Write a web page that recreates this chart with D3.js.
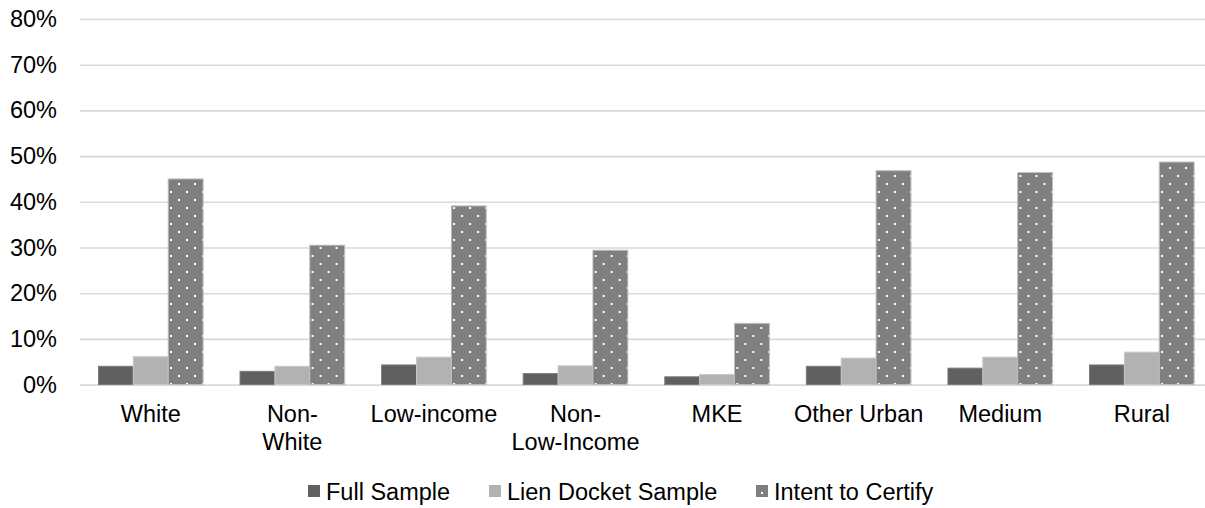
<!DOCTYPE html>
<html><head><meta charset="utf-8">
<script src="https://cdn.jsdelivr.net/npm/d3@7"></script>
<style>body{margin:0;background:#fff;} svg{display:block;font-family:"Liberation Sans",Arial,sans-serif;}</style>
</head><body><svg id="c" width="1205" height="508"></svg>
<script>
const categories = [["White"],["Non-","White"],["Low-income"],["Non-","Low-Income"],["MKE"],["Other Urban"],["Medium"],["Rural"]];
const seriesNames = ["Full Sample","Lien Docket Sample","Intent to Certify"];
const fullSample = [4.0, 2.9, 4.3, 2.4, 1.7, 4.0, 3.6, 4.3];
const lienDocket = [6.1, 4.0, 6.0, 4.1, 2.2, 5.8, 6.0, 7.1];
const intentCertify = [45.0, 30.5, 39.1, 29.4, 13.4, 46.8, 46.4, 48.7];
const yTicks = [0,10,20,30,40,50,60,70,80];

const seriesVals = [fullSample, lienDocket, intentCertify];
const svg = d3.select("#c");
const fontSize = 23.5;
const plotLeft = 80, plotRight = 1212.6, plotTop = 19, plotBottom = 384.6;

const defs = svg.append("defs");
const pat = defs.append("pattern").attr("id","dots").attr("patternUnits","userSpaceOnUse")
  .attr("x",10).attr("y",15).attr("width",16).attr("height",16);
pat.append("rect").attr("width",16).attr("height",16).attr("fill","#7f7f7f");
pat.append("rect").attr("x",0).attr("y",0).attr("width",2).attr("height",2).attr("fill","#fff");
pat.append("rect").attr("x",8).attr("y",8).attr("width",2).attr("height",2).attr("fill","#fff");

const fills = ["#606060","#b2b2b2","url(#dots)"];
const strokes = ["#7a7a7a","#c8c8c8","#bdbdbd"];

const x0 = d3.scaleBand().domain(d3.range(categories.length)).range([plotLeft,plotRight]).paddingInner(0).paddingOuter(0);
const x1 = d3.scaleBand().domain(d3.range(3)).range([0,x0.bandwidth()]).paddingInner(0).paddingOuter(0.53);
const y = d3.scaleLinear().domain([0,80]).range([plotBottom,plotTop]);

// gridlines
const yAxis = d3.axisLeft(y).tickValues(yTicks).tickSize(-(plotRight-plotLeft)).tickFormat(d=>d+"%").tickPadding(23);
const ga = svg.append("g").attr("transform",`translate(${plotLeft},0)`).call(yAxis);
ga.select(".domain").remove();
ga.selectAll(".tick line").attr("stroke","#d9d9d9").attr("stroke-width",1.6);
ga.selectAll(".tick text").attr("font-size",fontSize).attr("fill","#000").attr("font-family","Liberation Sans, Arial, sans-serif");

// bars
const groups = svg.append("g").selectAll("g").data(categories).join("g")
  .attr("transform",(d,i)=>`translate(${x0(i)},0)`);
groups.selectAll("rect").data((d,i)=>seriesVals.map((s,k)=>({k,v:s[i]}))).join("rect")
  .attr("x",d=>x1(d.k)).attr("width",x1.bandwidth())
  .attr("y",d=>y(d.v)).attr("height",d=>y(0)-y(d.v))
  .attr("fill",d=>fills[d.k]).attr("stroke",d=>strokes[d.k]).attr("stroke-width",1);

// category labels
const xl = svg.append("g");
categories.forEach((lines,i)=>{
  const cx = x0(i)+x0.bandwidth()/2;
  const t = xl.append("text").attr("x",cx).attr("y",422)
    .attr("text-anchor","middle").attr("font-size",fontSize).attr("fill","#000");
  lines.forEach((ln,j)=>t.append("tspan").attr("x",cx).attr("dy",j===0?0:27.5).text(ln));
});

// legend
const legX = [308, 489, 756];
const leg = svg.append("g");
seriesNames.forEach((n,k)=>{
  leg.append("rect").attr("x",legX[k]).attr("y",485).attr("width",12).attr("height",12)
    .attr("fill",k===2?"#7f7f7f":fills[k]);
  if(k===2) leg.append("rect").attr("x",legX[k]+5).attr("y",492).attr("width",2).attr("height",2).attr("fill","#fff");
  leg.append("text").attr("x",legX[k]+18).attr("y",500).attr("font-size",fontSize).attr("fill","#000").text(n);
});
</script></body></html>
